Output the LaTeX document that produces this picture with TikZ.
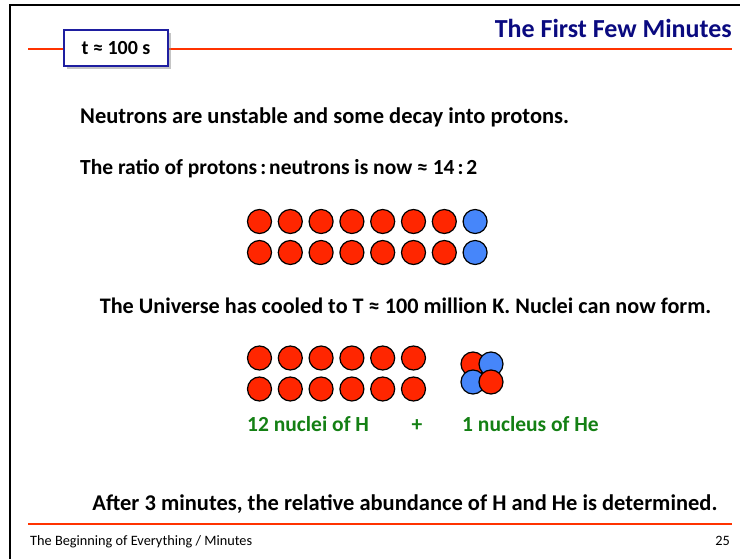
\documentclass[tikz,border=0pt]{standalone}
\usepackage{fontspec}
\setmainfont{Carlito}
\usetikzlibrary{shadows}
\definecolor{pred}{RGB}{255,38,0}
\definecolor{nblue}{RGB}{70,134,250}
\definecolor{navy}{RGB}{10,10,128}
\definecolor{boxblue}{RGB}{30,30,160}
\definecolor{hgreen}{RGB}{20,128,20}
\definecolor{lred}{RGB}{255,51,0}
\begin{document}
\begin{tikzpicture}[x=1pt,y=-1pt,
  proton/.style={circle,draw=black,line width=1.2pt,fill=pred,minimum size=24pt,inner sep=0pt},
  neutron/.style={proton,fill=nblue},
  body/.style={font=\bfseries\fontsize{22.5}{26}\selectfont,inner sep=0pt},
  green/.style={font=\bfseries\fontsize{21.5}{25}\selectfont,text=hgreen,inner sep=0pt},
  rule/.style={draw=lred,line width=2.2pt},
  foot/.style={font=\fontsize{14.3}{17}\selectfont,inner sep=0pt}]
\useasboundingbox (0,0) rectangle (740,559);
\fill[white] (0,0) rectangle (740,559);
% frame
\draw[black,line width=2.2pt] (10,570) -- (10,5) -- (750,5);
% header rule
\coordinate (hl) at (28,49);
\coordinate (hr) at (732,49);
\draw[rule] (hl) -- (hr);
\node[draw=boxblue,line width=1.2pt,fill=white,minimum width=104pt,minimum height=36pt,
  drop shadow={shadow xshift=3pt,shadow yshift=-3pt,fill=black!45},
  font=\bfseries\fontsize{20}{24}\selectfont] (tbox) at (116,48) {t ≈ 100 s};
\node[anchor=base east,inner sep=0pt,text=navy,font=\bfseries\fontsize{26}{30}\selectfont] (title) at (732,38) {The First Few Minutes};
% text
\node[body,anchor=base west] (l1) at (80,124) {Neutrons are unstable and some decay into protons.};
\node[body,anchor=base west,font=\bfseries\fontsize{21.5}{25}\selectfont] (l2) at (80,175) {The ratio of protons\kern3pt:\kern3pt neutrons is now ≈ 14\kern3pt:\kern3pt2};
% group 1
\foreach \i in {0,...,6}{
  \node[proton] (a\i) at (259.5+30.8*\i,221.5) {};
  \node[proton] (b\i) at (259.5+30.8*\i,252.5) {};
}
\node[neutron] (a7) at (475.1,221.5) {};
\node[neutron] (b7) at (475.1,252.5) {};
\node[body,anchor=base,font=\bfseries\fontsize{22.2}{26}\selectfont] (l3) at (405.5,313) {The Universe has cooled to T ≈ 100 million K. Nuclei can now form.};
% group 2
\foreach \i in {0,...,5}{
  \node[proton] (c\i) at (259.5+30.8*\i,358) {};
  \node[proton] (d\i) at (259.5+30.8*\i,389) {};
}
\node[proton] (he1) at (473,364) {};
\node[neutron] (he2) at (491,364) {};
\node[neutron] (he3) at (473,382) {};
\node[proton] (he4) at (491,382) {};
\node[green,anchor=base west] (hlab) at (247,431) {12 nuclei of H};
\node[green,anchor=base] (plus) at (417,431) {+};
\node[green,anchor=base west] (helab) at (462,431) {1 nucleus of He};
\node[body,anchor=base] (l4) at (405,510) {After 3 minutes, the relative abundance of H and He is determined.};
% footer
\coordinate (fl) at (28,524);
\coordinate (fr) at (732,524);
\draw[rule] (fl) -- (fr);
\node[foot,anchor=base west] (ftext) at (30,545) {The Beginning of Everything / Minutes};
\node[foot,anchor=base east] (fnum) at (730,545) {25};
\end{tikzpicture}
\end{document}
